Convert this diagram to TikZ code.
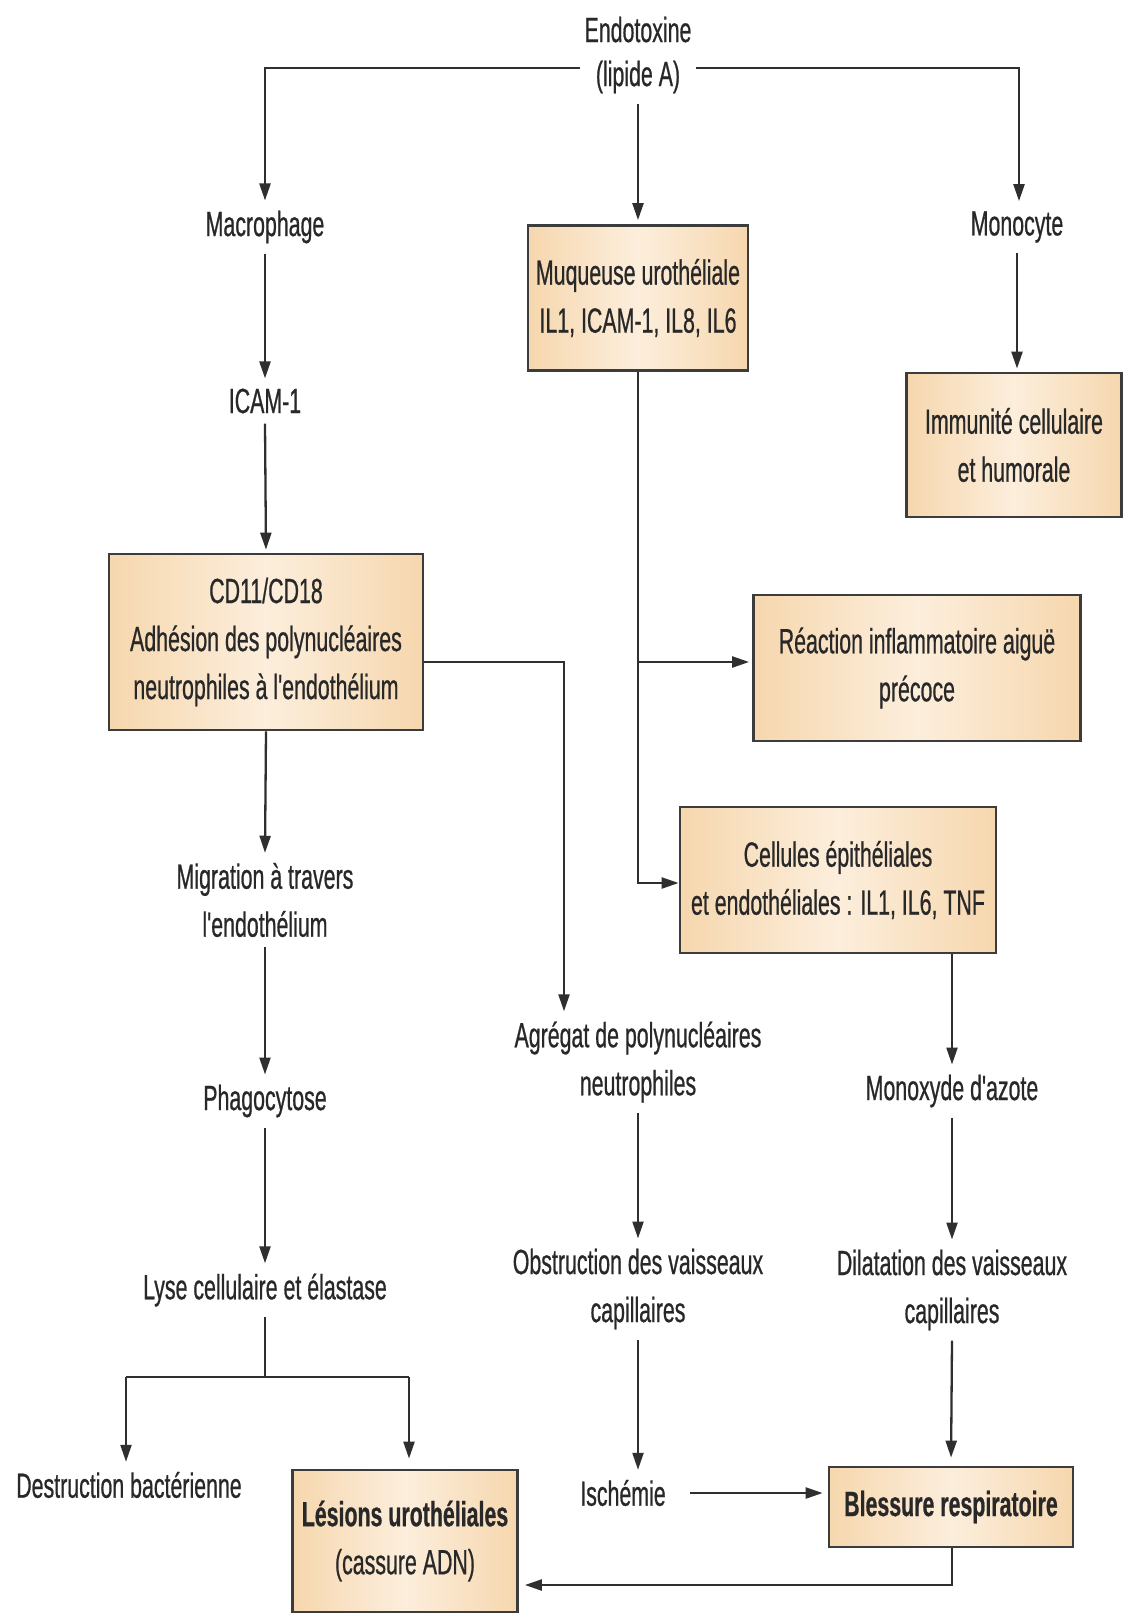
\documentclass[tikz,border=0pt]{standalone}
\usepackage{fontspec}
\newfontfamily\cf[FakeStretch=0.61,FakeBold=0.6]{Liberation Sans}
\usetikzlibrary{arrows.meta}
\definecolor{lnc}{HTML}{2F2F2F}
\definecolor{tx}{HTML}{282828}
\definecolor{boxA}{HTML}{F6D7AE}
\definecolor{boxB}{HTML}{FCEEDC}
\definecolor{bd}{HTML}{3C3C3C}
\begin{document}
\begin{tikzpicture}[x=1pt,y=-1pt,
  lbl/.style={font=\cf\fontsize{35}{48}\selectfont, text=tx, align=center, inner xsep=4pt, inner ysep=10pt},
  bx/.style={lbl, draw=bd, line width=2.8pt, left color=boxA, right color=boxA, middle color=boxB, inner sep=0pt},
  arr/.style={draw=lnc, line width=2.3pt, -{Triangle[length=17pt,width=11pt]}},
  lin/.style={draw=lnc, line width=2.3pt}]
\useasboundingbox (0,0) rectangle (1123,1614);
\fill[white] (0,0) rectangle (1123,1614);

% text nodes
\node[lbl, font=\cf\fontsize{35}{44}\selectfont] (endo) at (638,55) {Endotoxine\\(lipide A)};
\node[lbl] (macro) at (265,227) {Macrophage};
\node[lbl] (mono) at (1017,227) {Monocyte};
\node[lbl] (icam) at (265,401) {ICAM-1};
\node[lbl] (migr) at (265,900) {Migration à travers\\l'endothélium};
\node[lbl] (phago) at (265,1101) {Phagocytose};
\node[lbl] (lyse) at (265,1290) {Lyse cellulaire et élastase};
\node[lbl] (destr) at (129,1485) {Destruction bactérienne};
\node[lbl] (agreg) at (638,1062) {Agrégat de polynucléaires\\neutrophiles};
\node[lbl] (obstr) at (638,1289) {Obstruction des vaisseaux\\capillaires};
\node[lbl] (isch) at (623,1493) {Ischémie};
\node[lbl] (monox) at (952,1091) {Monoxyde d'azote};
\node[lbl] (dilat) at (952,1290) {Dilatation des vaisseaux\\capillaires};

% boxes
\node[bx, minimum width=220pt, minimum height=145pt] (muq) at (638,298) {Muqueuse urothéliale\\IL1, ICAM-1, IL8, IL6};
\node[bx, minimum width=215pt, minimum height=144pt] (immun) at (1014,445) {Immunité cellulaire\\et humorale};
\node[bx, minimum width=314pt, minimum height=176pt] (cd11) at (266,642) {CD11/CD18\\Adhésion des polynucléaires\\neutrophiles à l'endothélium};
\node[bx, minimum width=327pt, minimum height=146pt] (reac) at (917,668) {Réaction inflammatoire aiguë\\précoce};
\node[bx, minimum width=316pt, minimum height=146pt] (cell) at (838,880) {Cellules épithéliales\\et endothéliales : IL1, IL6, TNF};
\node[bx, minimum width=225pt, minimum height=142pt] (les) at (405,1541) {\textbf{Lésions urothéliales}\\(cassure ADN)};
\node[bx, minimum width=244pt, minimum height=80pt] (bless) at (951,1507) {\textbf{Blessure respiratoire}};

% coordinates for bends
\coordinate (tl) at (265,68);
\coordinate (tr) at (1019,68);
\coordinate (c1) at (564,662);
\coordinate (m1) at (638,662);
\coordinate (m2) at (638,883);
\coordinate (lsl) at (126,1377);
\coordinate (lsm) at (265,1377);
\coordinate (lsr) at (409,1377);
\coordinate (b1) at (952,1585);

% top
\draw[arr] (endo.west |- tl) -- (tl) -- (macro.north);
\draw[arr] (endo.east |- tr) -- (tr) -- (tr |- mono.north);
\draw[arr, shorten >=4pt] (endo.south) -- (muq.north);

% left column
\draw[arr] (macro.south) -- (icam.north);
\draw[arr, shorten >=3pt] (icam.south) -- (cd11.north);
\draw[arr] (cd11.south) -- (migr.north);
\draw[arr] (migr.south) -- (phago.north);
\draw[arr] (phago.south) -- (lyse.north);
\draw[lin] (lyse.south) -- (lsm);
\draw[lin] (lsl) -- (lsr);
\draw[arr] (lsl) -- (lsl |- destr.north);
\draw[arr, shorten >=10pt] (lsr) -- (lsr |- les.north);

% middle column
\draw[arr] (cd11.east |- c1) -- (c1) -- (c1 |- agreg.north);
\draw[arr] (muq.south) -- (m2) -- (m2 -| cell.west);
\draw[arr, shorten >=3pt] (m1) -- (m1 -| reac.west);
\draw[arr] (agreg.south) -- (obstr.north);
\draw[arr] (obstr.south) -- (obstr.south |- isch.north);
\draw[arr, shorten <=20pt, shorten >=5pt] (isch.east) -- (isch.east -| bless.west);

% right column
\draw[arr, shorten >=3pt] (mono.south) -- (mono.south |- immun.north);
\draw[arr] (cell.south -| monox) -- (monox.north);
\draw[arr] (monox.south) -- (dilat.north);
\draw[arr, shorten >=8pt] (dilat.south) -- (bless.north);
\draw[arr, shorten >=6pt] (bless.south -| b1) -- (b1) -- (b1 -| les.east);
\end{tikzpicture}
\end{document}
